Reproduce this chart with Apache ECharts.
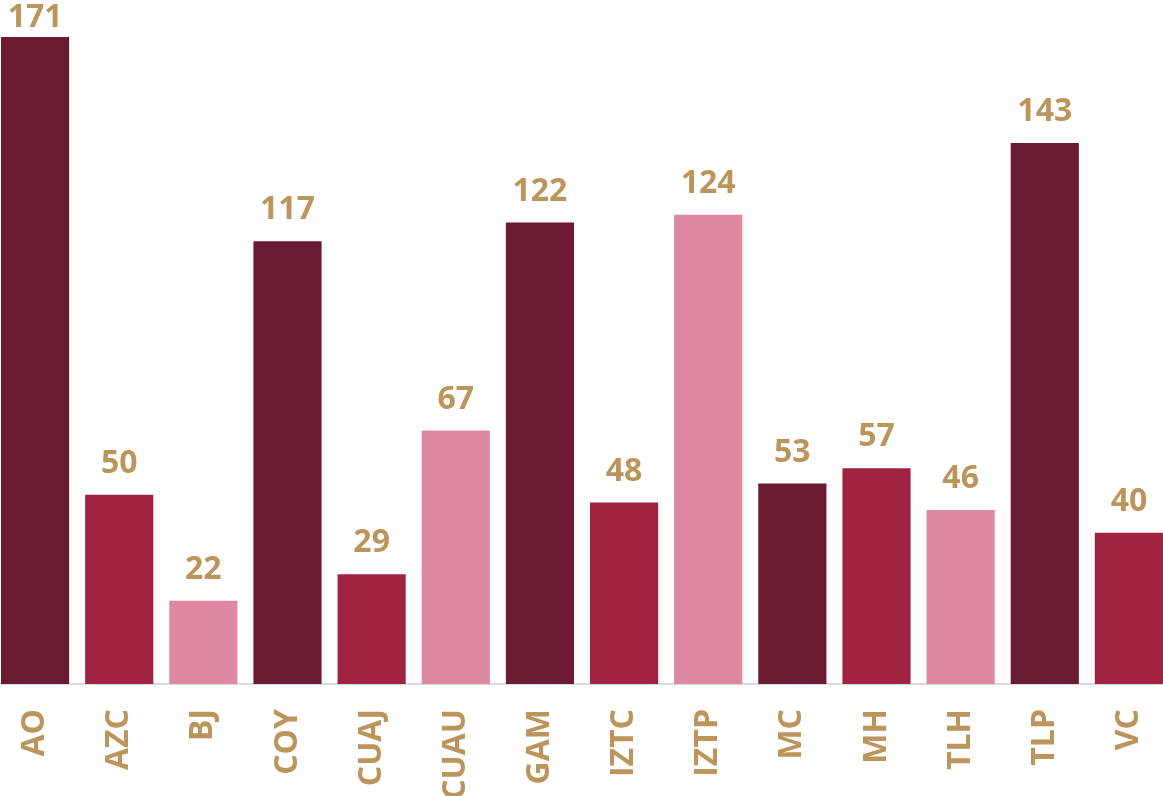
<!DOCTYPE html>
<html><head><meta charset="utf-8">
<script src="https://cdn.jsdelivr.net/npm/echarts@6/dist/echarts.min.js"></script>
<style>html,body{margin:0;padding:0;background:#fff;overflow:hidden}#c{width:1178px;height:796px;margin-left:-7px}</style>
</head><body><div id="c"></div>
<script>
const categories = ['AO','AZC','BJ','COY','CUAJ','CUAU','GAM','IZTC','IZTP','MC','MH','TLH','TLP','VC'];
const values = [171,50,22,117,29,67,122,48,124,53,57,46,143,40];
const palette = ['#6a1b31','#9f2241','#de89a1'];
const chart = echarts.init(document.getElementById('c'));
chart.setOption({
  animation:false,
  grid:{left:0,right:0,top:3,bottom:112,containLabel:false,outerBoundsMode:'none'},
  xAxis:{type:'category',data:categories,
    axisLine:{lineStyle:{color:'#d9d9d9',width:2}},axisTick:{show:false},
    axisLabel:{rotate:90,margin:25,color:'#bc955c',fontFamily:'Open Sans',fontWeight:'bold',fontSize:32,interval:0}},
  yAxis:{type:'value',min:0,max:180,show:false,splitLine:{show:false}},
  series:[{type:'bar',barCategoryGap:'19%',
    data:values.map((v,i)=>({value:v,itemStyle:{color:palette[i%3]},label:i===0?{distance:3}:undefined})),
    label:{show:true,position:'top',distance:15,color:'#bc955c',fontFamily:'Open Sans',fontWeight:'bold',fontSize:32}}]
});
</script></body></html>
